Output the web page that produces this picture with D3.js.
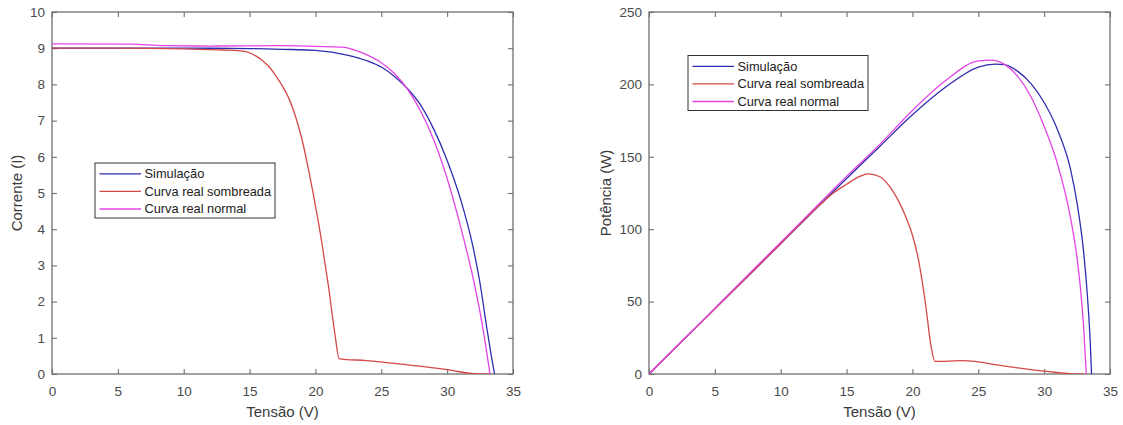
<!DOCTYPE html>
<html>
<head>
<meta charset="utf-8">
<script src="https://cdn.jsdelivr.net/npm/d3@7"></script>
<style>
  body { margin: 0; background: #fff; }
  text { font-family: "Liberation Sans", Arial, Helvetica, sans-serif; }
</style>
</head>
<body>
<script>
var width = 1123, height = 425

// series names and colours
var seriesNames = ["Simulação", "Curva real sombreada", "Curva real normal"]
var seriesColors = ["#2e2eb0", "#d44848", "#e444e4"]

// I-V curves, [tensão V, corrente A]
var ivSimulacao = [[0, 9.0], [5, 9.0], [10, 9.0], [15, 8.99], [17.5, 8.97], [20, 8.94], [22.5, 8.8], [24, 8.64],
  [25, 8.48], [26, 8.22], [27, 7.88], [28, 7.42], [29, 6.75], [30, 5.9], [31, 4.85], [32, 3.45],
  [32.5, 2.5], [33, 1.3], [33.3, 0.62], [33.6, 0]]
var ivSombreada = [[0, 9.0], [5, 9.0], [10, 8.98], [13, 8.95], [14.5, 8.92], [15.5, 8.78], [16, 8.65], [16.55, 8.46],
  [17, 8.23], [17.5, 7.95], [18, 7.6], [18.5, 7.1], [19, 6.45], [19.5, 5.6], [20, 4.65], [20.5, 3.6], [21, 2.4],
  [21.5, 1.05], [21.8, 0.42], [23.9, 0.37], [27, 0.25], [30, 0.12], [32.3, 0], [33.3, 0]]
var ivNormal = [[0, 9.12], [6, 9.11], [8.5, 9.07], [12, 9.06], [17.5, 9.07], [20, 9.05], [22, 9.03], [23, 8.95],
  [24, 8.8], [25, 8.6], [26, 8.3], [27, 7.86], [28, 7.25], [29, 6.45], [30, 5.4], [31, 4.1], [32, 2.6],
  [32.5, 1.7], [33, 0.62], [33.25, 0]]

// P-V curves, [tensão V, potência W]
var pvSimulacao = [[0, 0], [5, 45], [10, 90], [15, 135], [17.5, 157], [20, 179], [22.5, 198], [25, 212],
  [26.3, 214], [27, 213.6], [28, 209], [29, 200.5], [30, 187.5], [31, 169], [32, 141.5], [32.5, 118],
  [33, 84], [33.3, 52], [33.5, 22], [33.6, 0]]
var pvSombreada = [[0, 0], [5, 45], [10, 90], [13, 117], [14, 125], [15, 131], [16, 136.5], [16.65, 138.2],
  [17.5, 136.4], [18, 132.5], [18.5, 126.5], [19, 118.5], [19.5, 108.5], [20, 96], [20.5, 77], [21, 48],
  [21.4, 20], [21.7, 8.7], [23.85, 9.2], [27, 5.5], [30.2, 1.8], [32.5, 0], [33, 0]]
var pvNormal = [[0, 0], [5, 45.5], [10, 91], [15, 136.5], [17.5, 158.4], [20, 182], [22.5, 202.5], [25, 216.2],
  [26, 216.8], [27, 213.8], [28, 205.5], [29, 191.5], [30, 171], [31, 145.5], [32, 108], [32.5, 80],
  [32.8, 55], [33.0, 32], [33.2, 0]]

var xTicks = [0, 5, 10, 15, 20, 25, 30, 35]
var ivTicks = [0, 1, 2, 3, 4, 5, 6, 7, 8, 9, 10]
var pvTicks = [0, 50, 100, 150, 200, 250]

var svg = d3.select("body").append("svg")
    .attr("width", width)
    .attr("height", height)

function drawPanel(p) {
  var x = d3.scaleLinear().domain([0, 35]).range([p.left, p.right])
  var y = d3.scaleLinear().domain([0, p.ymax]).range([p.bottom, p.top])
  var g = svg.append("g")

  g.append("clipPath").attr("id", p.id)
    .append("rect")
    .attr("x", p.left).attr("y", p.top)
    .attr("width", p.right - p.left).attr("height", p.bottom - p.top)

  // bottom + left axes with labels, ticks pointing inward
  var xb = g.append("g").attr("transform", "translate(0," + p.bottom + ")")
    .call(d3.axisBottom(x).tickValues(xTicks).tickSize(-5).tickPadding(12))
  var yl = g.append("g").attr("transform", "translate(" + p.left + ",0)")
    .call(d3.axisLeft(y).tickValues(p.yticks).tickSize(-5).tickPadding(7))
  // mirrored ticks on top + right
  var xt = g.append("g").attr("transform", "translate(0," + p.top + ")")
    .call(d3.axisTop(x).tickValues(xTicks).tickSize(-5).tickFormat(""))
  var yr = g.append("g").attr("transform", "translate(" + p.right + ",0)")
    .call(d3.axisRight(y).tickValues(p.yticks).tickSize(-5).tickFormat(""))

  ;[xb, yl, xt, yr].forEach(function(a) {
    a.select(".domain").remove()
    a.selectAll("line").attr("stroke", "#6f6f6f").attr("stroke-width", 1.1)
    a.selectAll("text").attr("font-size", 13.5).attr("fill", "#4a4a4a")
      .attr("font-family", "'Liberation Sans', Arial, sans-serif")
  })

  g.append("rect")
    .attr("x", p.left).attr("y", p.top)
    .attr("width", p.right - p.left).attr("height", p.bottom - p.top)
    .attr("fill", "none").attr("stroke", "#6f6f6f").attr("stroke-width", 1.3)

  var line = d3.line()
    .x(function(d) { return x(d[0]) })
    .y(function(d) { return y(d[1]) })
    .curve(d3.curveMonotoneX)

  g.append("g").attr("clip-path", "url(#" + p.id + ")")
    .selectAll("path")
    .data(p.series)
    .enter().append("path")
    .attr("d", line)
    .attr("fill", "none")
    .attr("stroke", function(d, i) { return seriesColors[i] })
    .attr("stroke-width", 1.3)

  // axis titles
  g.append("text")
    .attr("x", (p.left + p.right) / 2).attr("y", 417)
    .attr("text-anchor", "middle")
    .attr("font-size", 15).attr("fill", "#3a3a3a")
    .text("Tensão (V)")
  g.append("text")
    .attr("transform", "translate(" + p.ylabelX + "," + ((p.top + p.bottom) / 2) + ") rotate(-90)")
    .attr("text-anchor", "middle")
    .attr("dy", "0.35em")
    .attr("font-size", 15).attr("fill", "#3a3a3a")
    .text(p.ylabel)

  // legend
  var lg = g.append("g").attr("transform", "translate(" + (p.left + p.legX) + "," + (p.top + p.legY) + ")")
  lg.append("rect")
    .attr("width", 180).attr("height", 55)
    .attr("fill", "#fff").attr("stroke", "#333").attr("stroke-width", 1)
  var item = lg.selectAll("g.item")
    .data(seriesNames)
    .enter().append("g")
    .attr("class", "item")
    .attr("transform", function(d, i) { return "translate(0," + (10.8 + i * 17.6) + ")" })
  item.append("line")
    .attr("x1", 4.5).attr("x2", 46)
    .attr("stroke", function(d, i) { return seriesColors[i] })
    .attr("stroke-width", 1.3)
  item.append("text")
    .attr("x", 49.5).attr("dy", "0.35em")
    .attr("font-size", 12.8).attr("fill", "#222")
    .text(function(d) { return d })
}

drawPanel({
  id: "clipIV", left: 52, right: 513, top: 12, bottom: 374,
  ymax: 10, yticks: ivTicks, ylabel: "Corrente (I)", ylabelX: 17,
  series: [ivSimulacao, ivSombreada, ivNormal],
  legX: 43, legY: 151
})

drawPanel({
  id: "clipPV", left: 649, right: 1110, top: 12, bottom: 374,
  ymax: 250, yticks: pvTicks, ylabel: "Potência (W)", ylabelX: 606,
  series: [pvSimulacao, pvSombreada, pvNormal],
  legX: 39, legY: 43.5
})
</script>
</body>
</html>
